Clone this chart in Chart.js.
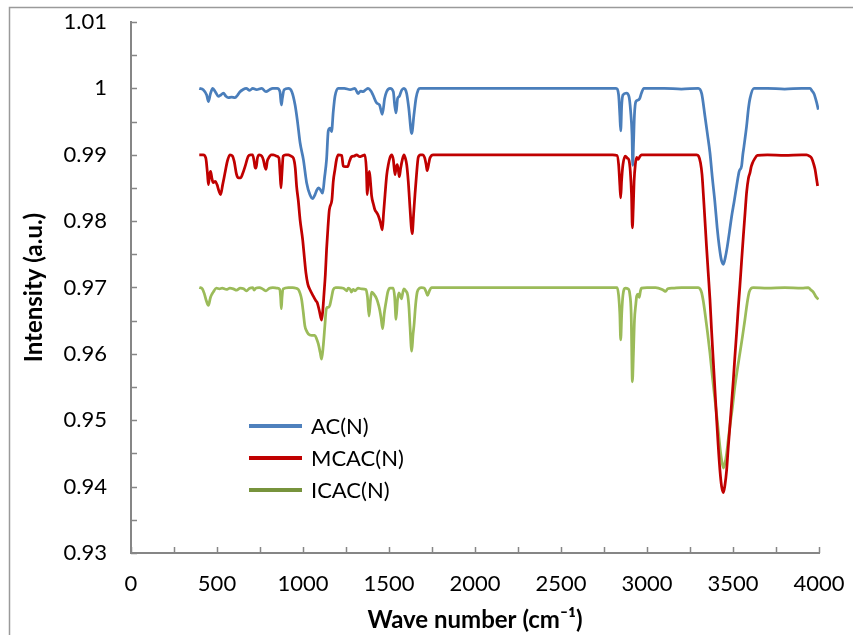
<!DOCTYPE html>
<html>
<head>
<meta charset="utf-8">
<script src="https://cdn.jsdelivr.net/npm/chart.js@4.4.1/dist/chart.umd.min.js"></script>
<style>
  html, body { margin: 0; padding: 0; background: #fff; }
  #spectrum { display: block; }
</style>
</head>
<body>
<canvas id="spectrum" width="853" height="635"></canvas>
<script>
// FTIR spectra of the three carbons, offset vertically
const seriesNames = ['AC(N)', 'MCAC(N)', 'ICAC(N)'];

const acWave = [397, 420, 440, 450, 462, 475, 490, 508, 522, 537, 552, 566, 585, 605, 620, 634, 650, 670, 690, 708,
  730, 760, 785, 805, 824, 850, 866, 874, 880, 890, 915, 935, 954, 968, 983, 1002, 1021, 1040, 1056, 1070,
  1079, 1090, 1100, 1114, 1125, 1137, 1147, 1158, 1166, 1176, 1186, 1205, 1240, 1275, 1302, 1320, 1335, 1349, 1365, 1378,
  1395, 1407, 1428, 1445, 1461, 1475, 1486, 1506, 1525, 1533, 1541, 1550, 1560, 1573, 1587, 1603, 1615, 1632, 1645, 1657,
  1670, 1680, 2000, 2400, 2820, 2835, 2842, 2847, 2853, 2860, 2880, 2895, 2905, 2913, 2917, 2922, 2927, 2935, 2945, 2958,
  2968, 2982, 3100, 3200, 3298, 3318, 3337, 3352, 3366, 3380, 3395, 3408, 3420, 3432, 3444, 3455, 3467, 3480, 3492, 3507,
  3521, 3536, 3550, 3557, 3564, 3579, 3590, 3599, 3622, 3700, 3800, 3900, 3948, 3960, 3971, 3985, 3996];
const acIntensity = [1.0000, 0.9998, 0.9990, 0.9980, 0.9992, 1.0000, 0.9995, 0.9988, 0.9990, 0.9993, 0.9988, 0.9986, 0.9987, 0.9986, 0.9990, 0.9995, 0.9998, 1.0000, 0.9997, 1.0000,
  0.9998, 1.0000, 0.9995, 0.9998, 1.0000, 1.0000, 0.9995, 0.9975, 0.9985, 0.9998, 1.0000, 0.9995, 0.9975, 0.9950, 0.9918, 0.9893, 0.9858, 0.9840, 0.9834, 0.9840,
  0.9846, 0.9850, 0.9848, 0.9842, 0.9865, 0.9893, 0.9936, 0.9940, 0.9935, 0.9965, 0.9988, 1.0000, 1.0000, 0.9998, 1.0000, 0.9992, 0.9996, 0.9995, 0.9998, 1.0000,
  0.9996, 0.9990, 0.9978, 0.9975, 0.9961, 0.9985, 0.9995, 1.0000, 0.9995, 0.9975, 0.9963, 0.9985, 0.9988, 0.9997, 1.0000, 0.9992, 0.9970, 0.9932, 0.9960, 0.9985,
  0.9998, 1.0000, 1.0000, 1.0000, 1.0000, 0.9990, 0.9960, 0.9936, 0.9975, 0.9990, 0.9993, 0.9988, 0.9965, 0.9930, 0.9884, 0.9920, 0.9960, 0.9980, 0.9982, 0.9985,
  0.9993, 1.0000, 1.0000, 0.9999, 1.0000, 0.9992, 0.9958, 0.9930, 0.9903, 0.9865, 0.9828, 0.9790, 0.9762, 0.9742, 0.9735, 0.9745, 0.9762, 0.9785, 0.9807, 0.9830,
  0.9853, 0.9875, 0.9883, 0.9900, 0.9913, 0.9943, 0.9970, 0.9985, 1.0000, 1.0000, 0.9999, 1.0000, 1.0000, 0.9996, 0.9992, 0.9980, 0.9968];

const mcacWave = [397, 420, 435, 445, 450, 457, 463, 470, 478, 490, 500, 512, 521, 533, 546, 560, 575, 590, 600, 614,
  625, 637, 650, 663, 682, 695, 707, 716, 722, 727, 735, 746, 760, 770, 778, 785, 792, 800, 815, 827,
  845, 860, 867, 872, 877, 885, 900, 915, 930, 944, 955, 963, 973, 983, 998, 1008, 1017, 1028, 1040, 1060,
  1075, 1083, 1095, 1108, 1115, 1122, 1130, 1137, 1145, 1153, 1168, 1176, 1186, 1195, 1205, 1225, 1234, 1245, 1260, 1270,
  1282, 1298, 1311, 1330, 1342, 1360, 1368, 1374, 1380, 1386, 1392, 1399, 1410, 1418, 1428, 1438, 1450, 1461, 1468, 1477,
  1487, 1496, 1506, 1515, 1525, 1535, 1541, 1548, 1555, 1560, 1568, 1578, 1587, 1595, 1603, 1612, 1622, 1630, 1635, 1643,
  1651, 1660, 1670, 1683, 1695, 1708, 1716, 1722, 1730, 1738, 1757, 2000, 2400, 2800, 2826, 2835, 2842, 2847, 2852, 2860,
  2874, 2885, 2895, 2903, 2910, 2915, 2920, 2925, 2932, 2940, 2948, 2958, 2968, 3100, 3200, 3288, 3300, 3311, 3320, 3327,
  3336, 3346, 3356, 3366, 3375, 3385, 3395, 3405, 3414, 3424, 3434, 3444, 3453, 3463, 3472, 3482, 3492, 3502, 3511, 3521,
  3530, 3540, 3550, 3560, 3570, 3579, 3590, 3599, 3606, 3614, 3624, 3642, 3700, 3800, 3900, 3928, 3945, 3957, 3968, 3977,
  3985, 3992];
const mcacIntensity = [0.9900, 0.9900, 0.9895, 0.9870, 0.9855, 0.9870, 0.9875, 0.9865, 0.9858, 0.9860, 0.9855, 0.9845, 0.9840, 0.9855, 0.9872, 0.9890, 0.9900, 0.9898, 0.9890, 0.9870,
  0.9865, 0.9865, 0.9872, 0.9882, 0.9898, 0.9900, 0.9900, 0.9890, 0.9880, 0.9880, 0.9895, 0.9900, 0.9898, 0.9892, 0.9882, 0.9878, 0.9890, 0.9895, 0.9900, 0.9900,
  0.9898, 0.9895, 0.9870, 0.9850, 0.9870, 0.9898, 0.9900, 0.9900, 0.9898, 0.9895, 0.9880, 0.9852, 0.9830, 0.9802, 0.9772, 0.9745, 0.9722, 0.9705, 0.9697, 0.9687,
  0.9680, 0.9677, 0.9665, 0.9651, 0.9665, 0.9690, 0.9720, 0.9757, 0.9790, 0.9817, 0.9832, 0.9860, 0.9878, 0.9893, 0.9900, 0.9899, 0.9883, 0.9882, 0.9882, 0.9890,
  0.9897, 0.9898, 0.9900, 0.9897, 0.9898, 0.9900, 0.9880, 0.9840, 0.9865, 0.9875, 0.9860, 0.9838, 0.9825, 0.9817, 0.9813, 0.9808, 0.9798, 0.9787, 0.9810, 0.9840,
  0.9870, 0.9885, 0.9896, 0.9900, 0.9893, 0.9870, 0.9880, 0.9885, 0.9875, 0.9867, 0.9880, 0.9893, 0.9900, 0.9895, 0.9885, 0.9860, 0.9820, 0.9790, 0.9781, 0.9810,
  0.9840, 0.9870, 0.9896, 0.9900, 0.9900, 0.9895, 0.9885, 0.9876, 0.9885, 0.9895, 0.9900, 0.9900, 0.9900, 0.9900, 0.9899, 0.9885, 0.9855, 0.9835, 0.9860, 0.9885,
  0.9898, 0.9895, 0.9892, 0.9875, 0.9840, 0.9790, 0.9820, 0.9860, 0.9885, 0.9896, 0.9893, 0.9897, 0.9900, 0.9900, 0.9900, 0.9900, 0.9898, 0.9888, 0.9870, 0.9843,
  0.9805, 0.9762, 0.9722, 0.9682, 0.9637, 0.9591, 0.9546, 0.9501, 0.9462, 0.9425, 0.9400, 0.9391, 0.9402, 0.9425, 0.9458, 0.9491, 0.9526, 0.9561, 0.9596, 0.9632,
  0.9667, 0.9702, 0.9740, 0.9777, 0.9812, 0.9843, 0.9865, 0.9873, 0.9882, 0.9888, 0.9893, 0.9899, 0.9900, 0.9899, 0.9900, 0.9900, 0.9898, 0.9895, 0.9887, 0.9878,
  0.9865, 0.9853];

const icacWave = [397, 415, 427, 438, 450, 462, 478, 496, 515, 530, 555, 575, 595, 614, 635, 655, 671, 690, 708, 716,
  726, 746, 770, 785, 805, 824, 850, 865, 870, 874, 878, 885, 915, 940, 960, 973, 982, 992, 1002, 1011,
  1020, 1031, 1050, 1069, 1080, 1089, 1100, 1108, 1117, 1127, 1134, 1140, 1148, 1156, 1166, 1176, 1190, 1205, 1235, 1254,
  1263, 1275, 1282, 1292, 1302, 1320, 1340, 1366, 1375, 1384, 1392, 1399, 1412, 1428, 1440, 1447, 1455, 1463, 1472, 1482,
  1494, 1506, 1525, 1533, 1541, 1549, 1558, 1565, 1572, 1580, 1587, 1598, 1609, 1616, 1622, 1632, 1640, 1645, 1655, 1664,
  1677, 1689, 1705, 1715, 1724, 1735, 1747, 2000, 2400, 2826, 2835, 2842, 2847, 2853, 2860, 2874, 2890, 2900, 2908, 2915,
  2921, 2927, 2935, 2940, 2948, 2955, 2962, 2968, 3000, 3050, 3088, 3100, 3108, 3120, 3150, 3200, 3298, 3308, 3318, 3327,
  3337, 3352, 3366, 3380, 3395, 3410, 3424, 3434, 3444, 3453, 3463, 3472, 3482, 3497, 3511, 3525, 3540, 3555, 3569, 3582,
  3594, 3606, 3618, 3700, 3800, 3900, 3938, 3950, 3967, 3980, 3996];
const icacIntensity = [0.9700, 0.9698, 0.9690, 0.9680, 0.9673, 0.9685, 0.9693, 0.9699, 0.9698, 0.9699, 0.9697, 0.9699, 0.9698, 0.9696, 0.9699, 0.9698, 0.9695, 0.9699, 0.9700, 0.9696,
  0.9699, 0.9700, 0.9697, 0.9695, 0.9699, 0.9700, 0.9699, 0.9697, 0.9685, 0.9668, 0.9685, 0.9698, 0.9700, 0.9700, 0.9699, 0.9697, 0.9692, 0.9682, 0.9662, 0.9642,
  0.9635, 0.9630, 0.9628, 0.9628, 0.9622, 0.9615, 0.9602, 0.9592, 0.9610, 0.9642, 0.9665, 0.9670, 0.9670, 0.9673, 0.9685, 0.9697, 0.9700, 0.9700, 0.9699, 0.9695,
  0.9699, 0.9697, 0.9693, 0.9697, 0.9695, 0.9699, 0.9698, 0.9697, 0.9685, 0.9657, 0.9680, 0.9693, 0.9690, 0.9683, 0.9673, 0.9665, 0.9652, 0.9638, 0.9660, 0.9677,
  0.9694, 0.9699, 0.9699, 0.9685, 0.9652, 0.9680, 0.9692, 0.9688, 0.9683, 0.9692, 0.9698, 0.9695, 0.9688, 0.9670, 0.9642, 0.9604, 0.9630, 0.9642, 0.9675, 0.9693,
  0.9699, 0.9700, 0.9699, 0.9694, 0.9688, 0.9695, 0.9700, 0.9700, 0.9700, 0.9700, 0.9688, 0.9660, 0.9621, 0.9660, 0.9688, 0.9699, 0.9698, 0.9690, 0.9660, 0.9558,
  0.9600, 0.9650, 0.9675, 0.9687, 0.9690, 0.9685, 0.9695, 0.9699, 0.9700, 0.9700, 0.9697, 0.9695, 0.9694, 0.9698, 0.9699, 0.9700, 0.9700, 0.9698, 0.9692, 0.9680,
  0.9662, 0.9632, 0.9601, 0.9566, 0.9531, 0.9496, 0.9460, 0.9440, 0.9428, 0.9435, 0.9450, 0.9470, 0.9491, 0.9520, 0.9551, 0.9576, 0.9601, 0.9626, 0.9651, 0.9676,
  0.9693, 0.9699, 0.9700, 0.9699, 0.9700, 0.9699, 0.9700, 0.9697, 0.9693, 0.9687, 0.9682];

const FONT = 'Lato, "Open Sans", sans-serif';
const AXIS_GREY = '#868686';
const legendSwatch = ['#4F81BD', '#C00000', '#77933C'];

const toPoints = (xs, ys) => xs.map((x, i) => ({ x: x, y: ys[i] }));

// white page with the thin grey frame Excel puts round a chart
const framePlugin = {
  id: 'frame',
  beforeDraw(chart) {
    const ctx = chart.ctx;
    ctx.save();
    ctx.fillStyle = '#fff';
    ctx.fillRect(0, 0, chart.width, chart.height);
    ctx.strokeStyle = '#9a9a9a';
    ctx.lineWidth = 1.5;
    ctx.strokeRect(9.5, 7.5, chart.width + 20, chart.height + 20);
    ctx.restore();
  }
};

// tick marks pointing into the plot, majors and minors alike
const innerTicksPlugin = {
  id: 'innerTicks',
  afterDatasetsDraw(chart) {
    const { ctx, chartArea, scales } = chart;
    const len = 6;
    ctx.save();
    ctx.strokeStyle = AXIS_GREY;
    ctx.lineWidth = 1.5;
    ctx.beginPath();
    for (let v = 0; v <= 4000; v += 250) {
      const px = Math.round(scales.x.getPixelForValue(v)) + 0.5;
      ctx.moveTo(px, chartArea.bottom);
      ctx.lineTo(px, chartArea.bottom - len);
    }
    for (let i = 0; i <= 16; i++) {
      const py = Math.round(scales.y.getPixelForValue(0.93 + i * 0.005)) + 0.5;
      ctx.moveTo(chartArea.left, py);
      ctx.lineTo(chartArea.left + len, py);
    }
    ctx.stroke();
    ctx.restore();
  }
};

// legend sitting inside the plot, lower left
const insideLegendPlugin = {
  id: 'insideLegend',
  afterDraw(chart) {
    const { ctx, chartArea } = chart;
    const x0 = chartArea.left + 118;
    const x1 = chartArea.left + 171;
    let y = 426;
    ctx.save();
    ctx.font = '22px ' + FONT;
    ctx.textBaseline = 'middle';
    ctx.fillStyle = '#000';
    chart.data.datasets.forEach((ds, i) => {
      ctx.strokeStyle = legendSwatch[i];
      ctx.lineWidth = 4;
      ctx.beginPath();
      ctx.moveTo(x0, y);
      ctx.lineTo(x1, y);
      ctx.stroke();
      ctx.fillText(ds.label, x1 + 9, y + 1);
      y += 32;
    });
    ctx.restore();
  }
};

new Chart(document.getElementById('spectrum'), {
  type: 'line',
  data: {
    datasets: [
      { label: seriesNames[0], data: toPoints(acWave, acIntensity), borderColor: '#4A7EBB', order: 1 },
      { label: seriesNames[1], data: toPoints(mcacWave, mcacIntensity), borderColor: '#C00000', order: 0 },
      { label: seriesNames[2], data: toPoints(icacWave, icacIntensity), borderColor: '#9BBB59', order: 2 }
    ]
  },
  options: {
    responsive: false,
    animation: false,
    devicePixelRatio: 1,
    layout: { padding: { left: 10, top: 22, right: 34, bottom: 0 } },
    elements: {
      point: { radius: 0 },
      line: { borderWidth: 2.75, cubicInterpolationMode: 'monotone', fill: false }
    },
    plugins: {
      legend: { display: false },
      tooltip: { enabled: false }
    },
    scales: {
      x: {
        type: 'linear',
        min: 0,
        max: 4000,
        grid: { display: false, drawTicks: false },
        border: { display: true, color: AXIS_GREY, width: 2 },
        ticks: {
          stepSize: 500,
          padding: 18,
          color: '#000',
          font: { family: FONT, size: 22 },
          callback: v => String(v)
        },
        title: {
          display: true,
          text: 'Wave number (cm⁻¹)',
          color: '#000',
          font: { family: FONT, size: 24, weight: 'bold' },
          padding: { top: 0, bottom: 0 }
        },
        afterFit(scale) {
          scale.height = 82;
          scale.paddingLeft = 0;
          scale.paddingRight = 0;
        }
      },
      y: {
        min: 0.93,
        max: 1.01,
        grid: { display: false, drawTicks: false },
        border: { display: true, color: AXIS_GREY, width: 2 },
        ticks: {
          stepSize: 0.01,
          padding: 24,
          color: '#000',
          font: { family: FONT, size: 22 },
          callback: v => String(Number(v.toFixed(2)))
        },
        title: {
          display: true,
          text: 'Intensity (a.u.)',
          color: '#000',
          font: { family: FONT, size: 24, weight: 'bold' },
          padding: { top: 10, bottom: 0 }
        },
        afterFit(scale) {
          scale.width = 121;
          scale.paddingTop = 0;
          scale.paddingBottom = 0;
        }
      }
    }
  },
  plugins: [framePlugin, innerTicksPlugin, insideLegendPlugin]
});
</script>
</body>
</html>
